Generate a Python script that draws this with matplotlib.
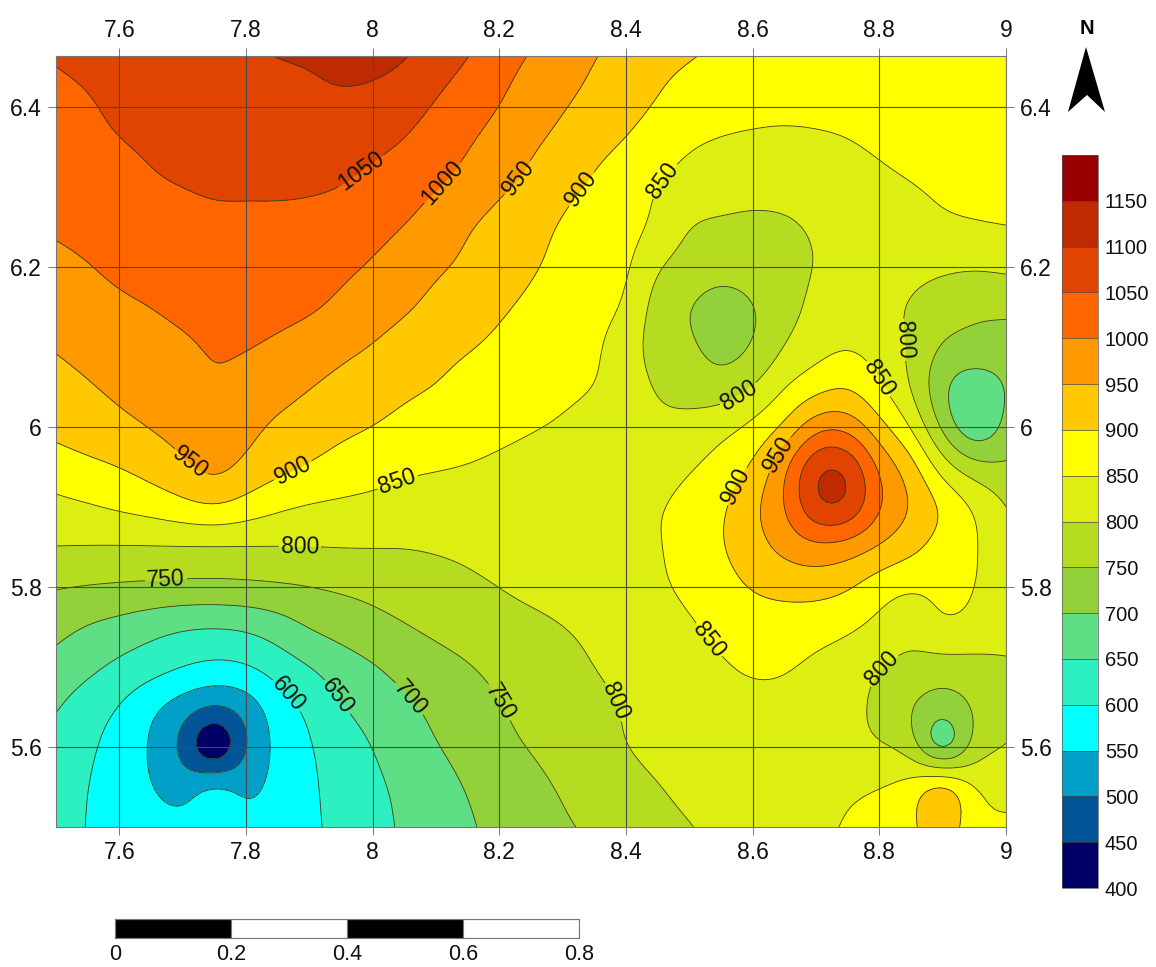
import numpy as np
import matplotlib
matplotlib.use("Agg")
import matplotlib.pyplot as plt
from matplotlib.patches import Polygon

plt.rcParams['font.family'] = ['Liberation Sans', 'DejaVu Sans']

W, H = 1156, 967

x_nodes = [7.5,7.55,7.6,7.65,7.7,7.75,7.8,7.85,7.9,7.95,8.0,8.05,8.1,8.15,8.2,8.25,8.3,8.35,8.4,8.45,8.5,8.55,8.6,8.65,8.7,8.75,8.8,8.85,8.9,8.95,9.0]
y_nodes = [5.5,5.55,5.6,5.65,5.7,5.75,5.8,5.85,5.9,5.95,6.0,6.05,6.1,6.15,6.2,6.25,6.3,6.35,6.4,6.45,6.5]

row_550 = [625,597,582,572,565,562,562,570,590,615,638,655,675,695,712,727,745,757,772,785,798,812,822,832,842,853,872,885,940,862,856]
row_555 = [625,600,578,552,528,578,538,565,592,618,640,660,680,703,718,735,755,770,785,798,812,820,827,832,838,843,851,875,945,850,838]
row_560 = [632,609,578,546,485,368,500,562,596,625,650,678,698,718,738,753,772,790,800,812,820,825,828,826,822,812,802,776,635,772,802]
row_565 = [653,625,597,558,525,497,520,575,610,647,670,690,710,730,747,765,782,793,801,815,828,836,840,840,832,815,788,751,722,757,778]
row_570 = [683,662,640,622,603,590,597,623,648,675,695,717,733,747,762,778,790,800,810,822,835,846,855,853,841,825,800,786,775,780,793]
row_575 = [715,696,682,665,652,648,655,675,704,720,735,748,760,770,778,785,797,810,822,835,845,860,872,876,868,858,838,815,850,838,818]
row_580 = [752,748,745,743,741,741,742,745,749,756,763,772,780,788,800,815,827,838,838,845,858,880,905,915,920,905,870,852,860,851,830]
row_585 = [800,798,796,795,794,793,795,798,800,802,802,801,805,812,824,832,838,842,847,845,870,897,930,965,985,975,945,915,878,853,825]
row_590 = [838,846,858,870,887,900,880,858,845,840,836,832,830,828,828,832,835,838,841,846,870,892,940,998,1100,1100,1005,950,898,848,802]
row_595 = [875,888,900,918,940,968,938,915,898,882,870,857,853,850,845,840,835,830,825,825,845,870,905,990,1100,1100,990,925,825,770,758]
row_600 = [915,928,940,953,970,990,965,940,925,910,900,885,872,862,857,852,846,835,825,812,815,835,862,905,985,985,915,848,735,650,712]
row_605 = [935,947,958,970,985,998,985,970,952,938,925,910,900,885,875,866,858,851,830,793,782,770,800,848,880,898,855,798,705,660,700]
row_610 = [953,963,972,982,992,1004,1002,990,975,960,948,930,913,903,890,875,865,857,825,775,760,728,750,802,832,848,830,793,745,740,732]
row_615 = [972,982,992,1000,1012,1020,1025,1018,1008,990,972,957,940,925,907,890,875,862,848,775,750,725,745,780,812,825,815,795,772,755,758]
row_620 = [990,998,1010,1020,1030,1038,1042,1035,1025,1010,995,970,955,942,925,905,890,872,860,802,780,770,775,790,800,815,822,815,808,805,810]
row_625 = [1005,1013,1025,1033,1035,1040,1040,1040,1036,1028,1018,1000,980,952,932,913,895,878,866,842,797,790,785,790,805,820,830,838,845,848,851]
row_630 = [1028,1035,1042,1046,1050,1056,1056,1056,1055,1050,1035,1018,1002,985,958,938,912,893,870,848,833,825,820,820,825,833,840,847,855,862,868]
row_635 = [1042,1045,1048,1053,1065,1075,1080,1082,1080,1070,1060,1045,1022,1002,980,955,935,912,895,872,851,843,840,838,840,845,855,866,875,882,888]
row_640 = [1042,1047,1055,1065,1073,1082,1088,1092,1095,1095,1088,1070,1045,1020,1000,975,953,935,915,897,880,868,862,860,862,866,875,882,888,893,897]
row_645 = [1050,1055,1063,1072,1080,1087,1093,1097,1099,1105,1107,1098,1070,1045,1015,992,970,948,925,908,898,888,880,878,880,884,890,893,895,897,899]
row_650 = [1058,1065,1073,1082,1090,1098,1105,1110,1118,1125,1128,1120,1095,1070,1035,1010,990,965,942,925,915,905,898,895,895,896,897,898,899,899,899]

z_rows = [row_550,row_555,row_560,row_565,row_570,row_575,row_580,row_585,row_590,row_595,row_600,
          row_605,row_610,row_615,row_620,row_625,row_630,row_635,row_640,row_645,row_650]

levels = [400,450,500,550,600,650,700,750,800,850,900,950,1000,1050,1100,1150,1200]
band_colors = ['#000066','#005599','#00a0c8','#00ffff','#2cf0c0','#5fdf85','#92d13a','#b6dc22',
               '#dcee12','#ffff00','#ffc800','#ff9900','#ff6600','#e04400','#bf2a00','#990000']
x_ticks = [7.6,7.8,8.0,8.2,8.4,8.6,8.8,9.0]
y_ticks = [5.6,5.8,6.0,6.2,6.4]
x_tick_labels = ['7.6','7.8','8','8.2','8.4','8.6','8.8','9']
y_tick_labels = ['5.6','5.8','6','6.2','6.4']
scale_ticks = [0,0.2,0.4,0.6,0.8]
scale_labels = ['0','0.2','0.4','0.6','0.8']
label_points = [(7.983,6.319),(8.114,6.3025),(8.233,6.309),(8.327,6.299),(8.454,6.311),
                (7.712,5.955),(7.874,5.946),(8.038,5.934),(7.885,5.848),(7.674,5.806),
                (7.865,5.665),(7.944,5.6625),(8.059,5.661),(8.214,5.6625),(8.398,5.6625),
                (8.531,5.734),(8.798,5.7025),(8.575,5.926),(8.642,5.965),(8.575,6.044),
                (8.796,6.059),(8.841,6.109)]


def smooth_axis(a, n=8):
    """Catmull-Rom drawing refinement along axis 0."""
    a = np.asarray(a, float)
    p = np.concatenate([2*a[:1]-a[1:2], a, 2*a[-1:]-a[-2:-1]], axis=0)
    out = []
    m = a.shape[0]
    for i in range(m-1):
        for k in range(n):
            t = k/n
            out.append(0.5*(2*p[i+1] + (p[i+2]-p[i])*t + (2*p[i]-5*p[i+1]+4*p[i+2]-p[i+3])*t**2
                            + (-p[i]+3*p[i+1]-3*p[i+2]+p[i+3])*t**3))
    out.append(a[-1])
    return np.array(out)


def soften(a, sigma=3.0):
    """Light Gaussian rendering blur on the refined field, to round contour lines."""
    r = int(3*sigma)
    k = np.exp(-0.5*(np.arange(-r, r+1)/sigma)**2)
    k /= k.sum()
    pad = np.pad(a, r, mode='reflect', reflect_type='odd')
    pad = np.apply_along_axis(lambda v: np.convolve(v, k, mode='same'), 0, pad)
    pad = np.apply_along_axis(lambda v: np.convolve(v, k, mode='same'), 1, pad)
    return pad[r:-r, r:-r]


Z = np.array(z_rows, float)
Zf = soften(smooth_axis(smooth_axis(Z).T).T)
xf = np.linspace(x_nodes[0], x_nodes[-1], Zf.shape[1])
yf = np.linspace(y_nodes[0], y_nodes[-1], Zf.shape[0])


def px_axes(l, t, r, b, **kw):
    return fig.add_axes([l/W, 1-b/H, (r-l)/W, (b-t)/H], **kw)


fig = plt.figure(figsize=(W/100, H/100), dpi=100, facecolor='white')
ax = px_axes(56, 56, 1006, 827)
cf = ax.contourf(xf, yf, Zf, levels=levels, colors=band_colors, extend='neither', zorder=1)
cs = ax.contour(xf, yf, Zf, levels=levels, colors='#3a3a20', linewidths=0.6, zorder=2)
ax.set_xlim(7.5, 9.0)
ax.set_ylim(5.5, 6.46375)
ax.set_xticks(x_ticks, x_tick_labels)
ax.set_yticks(y_ticks, y_tick_labels)
ax.tick_params(axis='both', which='major', top=True, bottom=True, left=True, right=True,
               labeltop=True, labelbottom=True, labelleft=True, labelright=True,
               length=6, width=0.7, color='#777777', labelsize=16.5, pad=4, labelcolor='#111111')
ax.grid(True, color='#4a4a4a', linewidth=0.8, zorder=3)
ax.set_axisbelow(False)
for s in ax.spines.values():
    s.set_color('#777777')
    s.set_linewidth(0.8)
ax.clabel(cs, manual=label_points, fmt='%d', fontsize=16.5, colors='#111111', inline=True, inline_spacing=2)

# colour bar
cax = px_axes(1062, 155, 1098, 888)
cb = fig.colorbar(cf, cax=cax, ticks=levels[:-1], drawedges=True)
cb.ax.set_yticklabels([str(v) for v in levels[:-1]])
cb.ax.tick_params(length=0, labelsize=14.5, pad=5, labelcolor='#111111')
cb.outline.set_edgecolor('#555555')
cb.outline.set_linewidth(0.5)
cb.dividers.set_color('#444444')
cb.dividers.set_linewidth(0.5)

# scale bar
sax = px_axes(115, 919, 579, 938)
sax.set_xlim(scale_ticks[0], scale_ticks[-1])
sax.set_ylim(0, 1)
for i in range(len(scale_ticks)-1):
    sax.bar(scale_ticks[i], 1, width=scale_ticks[i+1]-scale_ticks[i], align='edge',
            color='black' if i % 2 == 0 else 'white', edgecolor='#777777', linewidth=0.8)
sax.set_xticks(scale_ticks, scale_labels)
sax.set_yticks([])
sax.tick_params(axis='x', length=0, labelsize=15.5, pad=4, labelcolor='#111111')
for s in sax.spines.values():
    s.set_color('#777777')
    s.set_linewidth(0.8)

# north arrow
over = fig.add_axes([0, 0, 1, 1], facecolor='none')
over.set_xlim(0, W)
over.set_ylim(H, 0)
over.axis('off')
over.add_patch(Polygon([(1086, 47), (1105, 112), (1087, 95), (1068, 112)], closed=True, color='black', lw=0))
over.text(1087, 28, 'N', ha='center', va='center', fontsize=14.5, fontweight='bold', color='black')

fig.savefig('out.png', dpi=100, facecolor='white')
